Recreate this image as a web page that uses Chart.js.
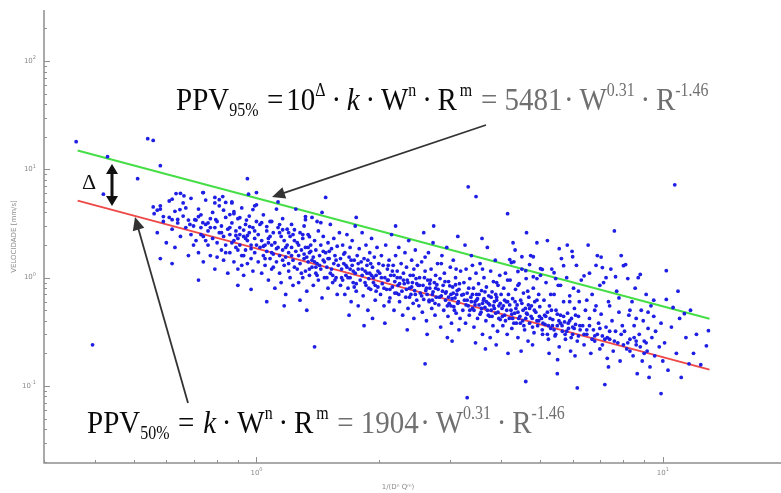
<!DOCTYPE html>
<html>
<head>
<meta charset="utf-8">
<script src="https://cdn.jsdelivr.net/npm/chart.js@4.4.1/dist/chart.umd.min.js"></script>
<style>
  html, body { margin: 0; padding: 0; background: #fff; }
  #wrap { width: 781px; height: 493px; }
</style>
</head>
<body>
<div id="wrap"><canvas id="ppvChart" width="781" height="493"></canvas></div>
<script>
// measured peak particle velocity, [scaled distance, mm/s]
const scatterPoints = [
  [0.36,18],[0.395,0.24],[0.42,5.9],[0.43,13.1],[0.51,8.2],[0.54,19.2],[0.557,18.5],[0.58,10.8],
  [0.557,4.5],[0.57,4.2],[0.58,4.3],[0.62,5.3],[0.648,4.25],[0.59,3.66],[0.62,3.43],[0.64,3.45],
  [0.705,3.43],[0.72,3.66],[0.686,3.1],[0.738,3.22],[0.794,3.43],[0.79,4.9],[0.81,5.25],[0.826,5.6],
  [0.84,4.95],[0.87,4.9],[0.86,3.82],[0.88,4.07],[0.91,3.58],[0.945,3.4],[0.962,2.96],[1.0,4.7],
  [0.98,4.25],[1.03,3.22],[1.06,2.96],[1.09,3.3],[1.14,3.09],[1.16,2.77],[1.2,2.6],[1.24,2.77],
  [1.3,2.5],[1.32,3.43],[1.32,3.66],[1.41,3.3],[1.44,3.22],[1.35,2.39],[0.634,5.97],[0.663,5.7],
  [0.738,6.1],[0.956,5.9],[1.0,6.1],[1.48,5.5],[1.13,5.0],[1.25,4.3],[0.95,8.2],
  [0.56,3.9],[0.57,2.6],[0.58,4.6],[0.59,3.3],[0.6,2.1],[0.61,5.1],[0.61,3.6],[0.62,2.8],[0.63,4.1],
  [0.63,1.9],[0.64,3.2],[0.65,6.0],[0.65,2.4],[0.66,3.7],[0.67,2.9],[0.67,4.4],[0.68,1.6],[0.68,3.4],
  [0.69,2.5],[0.69,5.4],[0.7,3.0],[0.7,2.0],[0.58,1.5],[0.62,1.35],[0.66,4.9],
  [0.71,3.4],[0.71,2.2],[0.72,1.7],[0.72,4.3],[0.73,2.9],[0.73,3.8],[0.74,2.4],[0.74,1.4],[0.75,3.1],
  [0.75,5.2],[0.76,2.0],[0.76,2.7],[0.77,3.5],[0.77,1.6],[0.78,2.3],[0.78,4.0],[0.79,2.9],[0.79,1.2],
  [0.8,3.3],[0.8,2.1],[0.81,2.6],[0.81,4.6],[0.82,1.8],[0.82,3.0],[0.83,2.4],[0.83,1.45],[0.84,3.6],
  [0.84,2.0],[0.85,2.8],[0.85,1.1],[0.73,2.5],[0.76,3.2],[0.8,1.55],[0.74,6.1],[0.79,5.5],[0.83,4.2],
  [0.72,0.95],[0.75,2.2],[0.77,2.9],
  [0.86,2.5],[0.86,1.7],[0.87,3.2],[0.87,2.1],[0.88,1.4],[0.88,3.9],[0.89,2.7],[0.89,1.9],[0.9,2.3],
  [0.9,1.2],[0.9,3.5],[0.91,2.0],[0.91,2.9],[0.92,1.6],[0.92,4.4],[0.93,2.4],[0.93,1.05],[0.94,3.1],
  [0.94,1.8],[0.95,2.2],[0.95,1.35],[0.96,2.6],[0.96,3.7],[0.97,1.5],[0.97,2.0],[0.98,2.9],[0.98,1.15],
  [0.99,2.3],[0.99,1.7],[1.0,3.3],[1.0,2.0],[0.87,5.0],[0.9,0.85],[0.93,2.75],[0.97,0.78],[0.89,2.45],
  [0.99,4.6],[0.92,1.3],[0.9,1.8],[0.91,2.5],[0.94,2.3],
  [1.01,1.4],[1.01,2.5],[1.02,1.9],[1.02,3.1],[1.03,1.1],[1.03,2.2],[1.04,1.6],[1.04,3.8],[1.05,2.0],
  [1.05,1.3],[1.06,2.7],[1.06,1.75],[1.07,0.95],[1.07,2.3],[1.08,1.5],[1.08,3.3],[1.09,2.0],[1.09,1.2],
  [1.1,2.6],[1.1,1.65],[1.11,0.8],[1.11,2.1],[1.12,1.4],[1.12,4.3],[1.13,1.9],[1.13,2.9],[1.14,1.1],
  [1.14,1.6],[1.15,2.4],[1.15,0.9],[1.16,1.8],[1.16,3.5],[1.17,1.3],[1.17,2.2],[1.18,1.55],[1.18,0.7],
  [1.19,2.0],[1.19,2.8],[1.2,1.15],[1.2,1.7],[1.21,2.4],[1.21,1.0],[1.22,1.9],[1.22,3.1],[1.23,1.45],
  [1.23,0.85],[1.24,2.2],[1.24,1.25],[1.25,1.75],[1.06,0.6],[1.17,0.55],
  [1.04,1.95],[1.05,1.5],[1.07,2.1],[1.09,1.7],[1.18,1.9],[1.2,1.35],[1.22,1.6],[1.23,2.5],
  [1.26,1.2],[1.26,2.1],[1.27,1.6],[1.27,0.9],[1.28,2.6],[1.28,1.35],[1.29,1.8],[1.3,1.0],[1.3,2.3],
  [1.31,1.5],[1.31,3.0],[1.32,1.15],[1.32,1.9],[1.33,0.75],[1.34,1.4],[1.34,2.5],[1.35,1.7],[1.35,1.05],
  [1.36,2.0],[1.37,1.25],[1.37,3.6],[1.38,1.55],[1.38,0.85],[1.39,2.2],[1.4,1.1],[1.4,1.8],[1.41,1.35],
  [1.42,2.7],[1.42,0.95],[1.43,1.6],[1.44,2.0],[1.44,1.2],[1.45,0.65],[1.46,1.45],[1.46,2.4],[1.47,1.0],
  [1.48,1.7],[1.49,1.25],[1.5,2.1],[1.5,0.8],[1.51,1.5],[1.52,3.1],[1.52,1.1],[1.53,1.85],[1.54,0.9],
  [1.55,1.35],[1.55,2.3],[1.56,1.6],[1.57,1.0],[1.58,1.95],[1.58,0.7],[1.59,1.3],[1.6,2.6],[1.33,0.5],
  [1.45,4.0],[1.28,0.62],[1.39,0.23],
  [1.33,1.55],[1.35,1.2],[1.36,1.75],[1.39,1.4],[1.41,1.05],[1.47,1.4],[1.49,1.0],[1.51,1.75],[1.53,1.2],
  [1.56,0.95],
  [1.61,1.5],[1.61,0.85],[1.62,1.2],[1.63,2.0],[1.63,0.95],[1.64,1.35],[1.65,0.7],[1.65,1.7],[1.66,1.05],
  [1.67,2.5],[1.67,1.25],[1.68,0.8],[1.69,1.55],[1.7,1.0],[1.7,1.9],[1.71,0.6],[1.72,1.3],[1.72,2.2],
  [1.73,0.9],[1.74,1.45],[1.75,1.1],[1.75,3.0],[1.76,0.75],[1.77,1.6],[1.78,1.2],[1.78,0.55],[1.79,1.85],
  [1.8,0.95],[1.81,1.4],[1.82,2.6],[1.82,1.05],[1.83,0.68],[1.84,1.5],[1.85,1.15],[1.86,0.85],[1.86,2.0],
  [1.87,1.3],[1.88,0.5],[1.89,0.98],[1.9,1.7],[1.9,1.1],[1.91,0.78],[1.92,2.3],[1.93,1.25],[1.94,0.9],
  [1.95,1.55],[1.96,0.62],[1.97,1.05],[1.98,1.9],[1.99,0.82],[2.0,1.35],[1.76,3.6],[1.69,0.45],[1.93,0.42],
  [1.84,0.36],
  [1.66,1.3],[1.68,1.0],[1.71,1.45],[1.73,1.15],[1.76,0.88],[1.87,1.1],[1.89,0.8],[1.91,1.35],[1.94,1.0],
  [1.97,0.75],
  [2.01,1.1],[2.02,0.7],[2.03,1.6],[2.04,0.88],[2.05,1.3],[2.06,0.55],[2.07,1.0],[2.08,2.0],[2.09,0.78],
  [2.1,1.2],[2.11,0.95],[2.12,1.45],[2.13,0.65],[2.14,1.05],[2.15,2.5],[2.16,0.82],[2.17,1.3],[2.18,0.5],
  [2.19,0.92],[2.2,1.6],[2.21,0.72],[2.22,1.15],[2.23,0.85],[2.24,1.9],[2.25,0.6],[2.26,1.0],[2.27,1.35],
  [2.28,0.75],[2.29,0.45],[2.3,1.1],[2.31,0.88],[2.32,1.7],[2.33,0.66],[2.34,1.25],[2.35,0.95],[2.36,0.52],
  [2.37,2.2],[2.38,0.8],[2.39,1.05],[2.4,0.7],[2.41,1.45],[2.42,0.9],[2.43,0.58],[2.44,1.2],[2.45,0.76],
  [2.46,1.8],[2.47,0.98],[2.48,0.62],[2.49,1.3],[2.5,0.85],[2.07,0.38],[2.35,0.33],[2.2,3.0],[2.12,0.6],
  [2.44,0.42],
  [2.1,0.95],[2.13,0.78],[2.16,1.15],[2.19,0.72],[2.22,1.0],[2.25,0.88],[2.36,0.9],[2.38,0.66],[2.41,0.82],
  [2.43,1.05],[2.46,0.7],[2.48,0.88],
  [2.51,0.55],[2.52,1.0],[2.53,0.72],[2.55,1.4],[2.56,0.48],[2.57,0.85],[2.58,0.63],[2.6,1.15],[2.61,0.76],
  [2.62,0.4],[2.64,0.95],[2.65,1.7],[2.66,0.6],[2.67,0.8],[2.69,1.2],[2.7,0.52],[2.71,0.7],[2.72,2.1],
  [2.74,0.9],[2.75,0.45],[2.76,1.05],[2.77,0.66],[2.79,1.35],[2.8,0.78],[2.81,0.56],[2.83,0.98],[2.84,0.35],
  [2.85,0.68],[2.86,1.6],[2.88,0.85],[2.89,0.5],[2.9,1.1],[2.92,0.62],[2.93,0.74],[2.94,1.9],[2.96,0.44],
  [2.97,0.92],[2.98,0.58],[3.0,1.25],[3.01,0.7],[3.02,0.38],[3.04,0.82],[3.05,1.45],[3.06,0.54],[3.08,0.65],
  [3.09,1.0],[3.1,0.47],[3.12,0.76],[3.13,2.4],[3.14,0.6],[3.16,0.88],[3.17,0.42],[3.18,1.15],[3.2,0.69],
  [2.63,0.3],[2.95,0.28],[3.03,0.26],[2.73,3.0],[2.58,2.6],[3.15,0.33],[2.6,0.16],
  [2.62,0.8],[2.66,0.62],[2.68,0.95],[2.72,0.74],[2.75,0.58],[2.78,0.86],[2.82,0.66],[2.92,0.72],[2.95,0.55],
  [2.99,0.84],[3.03,0.64],[3.07,0.5],[3.11,0.7],[3.15,0.78],[3.1,1.2],[2.85,1.35],[2.6,1.55],
  [3.22,0.5],[3.24,0.9],[3.25,0.62],[3.27,0.38],[3.28,1.2],[3.3,0.72],[3.32,6.9],[3.32,0.55],[3.34,0.45],
  [3.35,0.98],[3.37,0.66],[3.38,1.6],[3.4,0.52],[3.42,0.8],[3.43,0.35],[3.45,0.6],[3.47,1.1],[3.48,0.7],
  [3.5,0.42],[3.52,0.88],[3.53,0.56],[3.55,1.35],[3.57,0.48],[3.58,0.76],[3.6,0.3],[3.62,0.62],[3.63,1.0],
  [3.65,0.53],[3.67,0.4],[3.68,0.82],[3.7,1.9],[3.72,0.58],[3.73,0.68],[3.75,0.44],[3.77,1.15],[3.78,0.5],
  [3.8,0.74],[3.82,0.36],[3.83,0.92],[3.85,0.6],[3.87,1.45],[3.88,0.47],[3.9,0.66],[3.92,0.32],[3.93,0.85],
  [3.95,0.55],[3.97,1.05],[3.98,0.41],[4.0,0.7],[3.47,5.6],[3.46,0.25],[3.66,0.22],[3.89,0.24],[3.59,2.3],
  [3.26,2.0],[3.76,0.28],[3.3,0.078],
  [3.3,0.62],[3.35,0.5],[3.4,0.7],[3.45,0.56],[3.5,0.64],[3.55,0.46],[3.6,0.58],[3.65,0.74],[3.7,0.5],
  [3.75,0.56],[3.8,0.44],[3.85,0.52],[3.9,0.62],[3.95,0.42],[3.9,0.9],[3.6,1.2],[3.4,1.3],
  [4.02,0.52],[4.04,0.36],[4.06,0.8],[4.08,0.45],[4.1,1.1],[4.12,0.6],[4.14,0.3],[4.15,3.9],[4.17,0.7],
  [4.19,0.42],[4.21,0.95],[4.23,0.5],[4.25,0.34],[4.27,0.64],[4.3,1.4],[4.32,0.47],[4.34,0.78],[4.36,0.38],
  [4.38,0.56],[4.4,0.28],[4.43,0.88],[4.45,0.44],[4.47,0.62],[4.5,1.2],[4.52,0.4],[4.54,0.72],[4.57,0.33],
  [4.59,0.52],[4.61,0.98],[4.64,0.46],[4.66,0.26],[4.68,0.66],[4.7,0.38],[4.73,1.6],[4.75,0.55],[4.77,0.42],
  [4.8,0.8],[4.82,0.31],[4.84,0.6],[4.87,0.48],[4.92,0.36],[4.95,0.7],[4.97,0.44],[5.0,1.05],
  [4.28,2.1],[4.48,0.21],[4.62,2.6],[4.78,0.24],[4.16,0.2],[4.33,1.8],[4.6,0.11],
  [4.05,0.55],[4.1,0.4],[4.15,0.6],[4.25,0.46],[4.3,0.38],[4.35,0.52],[4.42,0.42],[4.5,0.58],[4.55,0.36],
  [4.62,0.47],[4.7,0.52],[4.78,0.35],[4.4,0.85],[4.65,0.75],[4.9,0.62],[4.15,0.95],
  [4.5,1.56],[4.2,1.47],[4.24,1.38],[4.8,1.56],[4.7,1.32],[5.0,1.21],[5.05,1.19],[4.4,1.14],[4.6,1.16],
  [4.8,1.02],[4.9,0.98],[5.4,1.11],[5.45,0.98],[4.9,2.1],[5.2,2.2],
  [5.03,0.42],[5.06,0.3],[5.1,0.62],[5.13,0.37],[5.16,0.9],[5.2,0.48],[5.23,0.27],[5.26,0.55],[5.3,0.34],
  [5.33,1.2],[5.36,0.41],[5.4,0.7],[5.43,0.29],[5.46,0.5],[5.5,0.36],[5.53,0.85],[5.56,0.23],[5.6,0.45],
  [5.63,1.5],[5.66,0.32],[5.7,0.6],[5.73,0.39],[5.76,0.27],[5.8,1.0],[5.83,0.47],[5.86,0.34],[5.9,0.68],
  [5.93,0.21],[5.96,0.42],[6.0,0.3],[6.03,0.8],[6.06,0.52],[6.1,0.37],[6.13,1.3],[6.16,0.26],[6.2,0.44],
  [6.23,0.6],[6.26,0.33],[6.3,0.95],[5.51,0.175],[5.82,2.0],[5.56,1.85],[6.08,0.19],[5.25,0.2],[5.98,1.75],
  [5.5,0.13],[6.16,0.096],
  [4.95,0.4],[5.05,0.33],[5.12,0.45],[5.2,0.3],[5.28,0.42],[5.35,0.36],[5.45,0.3],[5.55,0.4],[5.65,0.36],
  [5.75,0.3],[5.85,0.38],[5.95,0.28],[6.05,0.34],[6.2,0.29],[5.3,0.7],[5.6,0.85],[5.9,0.6],[6.2,0.75],
  [6.0,1.56],[5.7,1.29],[6.4,1.04],
  [6.35,0.36],[6.4,0.24],[6.45,0.5],[6.5,0.3],[6.55,2.0],[6.6,0.42],[6.65,0.2],[6.7,0.7],[6.75,0.33],
  [6.8,0.26],[6.85,0.55],[6.9,1.6],[6.95,0.38],[7.0,0.22],[7.05,0.46],[7.1,0.29],[7.15,0.9],[7.2,0.103],
  [7.25,0.35],[7.3,0.18],[7.35,0.6],[7.4,0.27],[7.45,1.2],[7.5,0.4],[7.55,0.21],[7.6,2.7],[7.65,0.32],
  [7.7,0.75],[7.75,0.25],[7.8,0.48],[7.85,0.17],[7.95,0.36],[6.6,1.1],[7.05,1.55],[7.35,0.15],[6.85,1.3],
  [6.5,0.33],[6.7,0.27],[6.9,0.3],[7.1,0.24],[7.3,0.28],[6.5,0.62],[6.8,0.5],[7.0,0.85],[7.4,0.55],
  [7.8,0.65],[7.1,1.24],[7.25,1.0],[7.65,1.02],[7.9,1.6],
  [8.05,0.32],[8.1,1.32],[8.15,0.22],[8.2,0.98],[8.25,0.45],[8.3,0.27],[8.4,0.6],[8.45,0.19],[8.5,0.36],
  [8.55,0.8],[8.6,0.24],[8.7,1.0],[8.75,0.3],[8.8,1.07],[8.85,0.5],[8.9,0.17],[8.95,0.4],[9.0,0.26],
  [9.1,0.7],[9.15,0.21],[9.2,0.34],[9.3,0.15],[9.35,0.55],[9.4,0.28],[9.5,0.44],[9.55,0.19],[9.6,0.32],
  [9.9,0.085],[9.8,0.23],[9.9,0.38],[10.0,0.17],[8.65,0.13],[9.25,0.12],[8.0,1.29],
  [8.0,0.24],[8.3,0.21],[8.6,0.26],[9.0,0.2],[8.3,0.5],[8.6,0.42],[9.2,0.48],[9.5,0.62],
  [10.1,0.25],[10.2,1.16],[10.2,0.63],[10.3,0.14],[10.5,0.35],[10.6,0.53],[10.7,7.2],[10.8,0.2],[11.0,0.42],
  [11.1,0.12],[11.3,0.465],[11.4,0.28],[11.6,0.16],[11.9,0.2],[12.1,0.3],[12.4,0.157],[12.8,0.235],
  [12.95,0.324],[11.7,0.5],[10.9,0.75],
  // dense core along the median line
  [0.82,2.6],[0.84,1.7],[0.86,2.9],[0.88,2.2],[0.93,1.6],[0.95,2.45],[0.97,1.85],[0.99,2.7],
  [1.08,2.4],[1.1,1.25],[1.12,1.85],[1.14,2.6],[1.16,1.45],[1.27,2.0],[1.29,1.1],[1.31,1.65],
  [1.34,1.9],[1.37,1.45],[1.4,1.25],[1.43,1.3],[1.46,1.75],[1.5,1.5],[1.54,1.05],[1.57,1.45],
  [1.62,1.0],[1.64,1.65],[1.7,1.2],[1.74,0.82],[1.78,1.35],[1.82,1.2],[1.85,0.9],[1.88,1.45],
  [1.92,1.05],[1.96,0.85],[1.99,1.15],[2.03,1.0],[2.06,0.8],[2.11,1.3],[2.18,1.05],[2.24,0.7],
  [2.3,0.95],[2.34,0.78],[2.52,0.85],[2.55,0.68],[2.59,1.0],[2.63,0.7],[2.67,0.88],[2.71,0.62],
  [2.76,0.8],[2.87,0.75],[2.91,0.92],[2.97,0.66],[3.01,0.55],[3.05,0.72],[3.09,0.86],[3.13,0.58],
  [3.23,0.7],[3.28,0.56],[3.33,0.8],[3.38,0.6],[3.43,0.5],[3.48,0.62],[3.53,0.7],[3.58,0.52],
  [3.63,0.64],[3.68,0.6],[3.72,0.45],[3.78,0.66],[3.83,0.55],[3.88,0.7],[3.93,0.48],[3.98,0.58],
  [4.03,0.44],[4.08,0.62],[4.13,0.5],[4.2,0.56],[4.27,0.42],[4.33,0.6],[4.4,0.48],[4.46,0.38],
  [4.53,0.5],[4.6,0.42],[4.67,0.56],[4.74,0.44],[4.83,0.5],[4.9,0.4],[4.98,0.54],[5.07,0.38],
  [5.15,0.44],[5.23,0.36],[5.32,0.5],[5.4,0.33],[5.5,0.46],[5.6,0.38],[5.7,0.44],[5.8,0.32],
  [5.9,0.4],[6.0,0.35],[6.1,0.45],[6.25,0.36],[6.4,0.3],[6.6,0.36],[6.8,0.29],[7.0,0.34],
  [7.2,0.27],[7.4,0.32],[7.6,0.26],[7.9,0.3],[8.2,0.25],[8.5,0.28],[8.8,0.23],[9.1,0.25]
];

// fitted attenuation lines (end points)
const fit50 = [[0.363, 5.14], [13.03, 0.1415]];
const fit95 = [[0.363, 14.9], [13.03, 0.418]];

// axis ranges and labelled decades
const xRange = [0.3013, 19.1];
const yRange = [0.01945, 295.8];
const xDecades = [0, 1];
const yDecades = [-1, 0, 1, 2];
const xTitle = '1/(D\u207F Q\u1D50)';
const yTitle = 'VELOCIDADE [mm/s]';

const BLUE = 'rgb(30,30,228)';
const GREEN = 'rgb(70,222,70)';
const RED = 'rgb(238,72,72)';
const AXIS = '#8f8f8f';
const SERIF = '"Liberation Serif", "Times New Roman", serif';
const SANS = '"DejaVu Sans", sans-serif';

function toXY(arr) {
    return arr.map(p => ({ x: p[0], y: p[1] }));
}

function powLabel(ctx, exp, x, y, align) {
    // "10" with a small exponent
    ctx.font = '7px ' + SANS;
    const base = '10';
    const bw = ctx.measureText(base).width;
    ctx.font = '5px ' + SANS;
    const ew = ctx.measureText(String(exp)).width;
    let left = x;
    if (align === 'right') left = x - bw - ew;
    if (align === 'center') left = x - (bw + ew) / 2;
    ctx.font = '7px ' + SANS;
    ctx.fillText(base, left, y);
    ctx.font = '5px ' + SANS;
    ctx.fillText(String(exp), left + bw, y - 3);
}

const axesPlugin = {
    id: 'axesPlugin',
    beforeDraw(chart) {
        const ctx = chart.ctx;
        ctx.save();
        ctx.fillStyle = '#fff';
        ctx.fillRect(0, 0, chart.width, chart.height);
        ctx.restore();
    },
    afterDatasetsDraw(chart) {
        const ctx = chart.ctx, a = chart.chartArea;
        const xs = chart.scales.x, ys = chart.scales.y;
        ctx.save();
        ctx.strokeStyle = AXIS;
        ctx.lineWidth = 1.5;
        ctx.beginPath();
        ctx.moveTo(a.left, a.top);
        ctx.lineTo(a.left, a.bottom);
        ctx.lineTo(chart.width, a.bottom);
        ctx.stroke();

        // tick marks point inwards
        ctx.lineWidth = 1;
        for (let e = -2; e <= 2; e++) {
            for (let m = 1; m <= 9; m++) {
                const v = m * Math.pow(10, e);
                if (v < ys.min || v > ys.max) continue;
                const py = Math.round(ys.getPixelForValue(v)) + 0.5;
                ctx.beginPath();
                ctx.moveTo(a.left, py);
                ctx.lineTo(a.left + (m === 1 ? 6 : 3), py);
                ctx.stroke();
            }
        }
        for (let e = -1; e <= 1; e++) {
            for (let m = 1; m <= 9; m++) {
                const v = m * Math.pow(10, e);
                if (v < xs.min || v > xs.max) continue;
                const px = Math.round(xs.getPixelForValue(v)) + 0.5;
                ctx.beginPath();
                ctx.moveTo(px, a.bottom);
                ctx.lineTo(px, a.bottom - (m === 1 ? 6 : 3));
                ctx.stroke();
            }
        }

        ctx.fillStyle = '#8a8a8a';
        ctx.textBaseline = 'middle';
        ctx.textAlign = 'left';
        yDecades.forEach(e => {
            powLabel(ctx, e, a.left - 8, ys.getPixelForValue(Math.pow(10, e)), 'right');
        });
        xDecades.forEach(e => {
            powLabel(ctx, e, xs.getPixelForValue(Math.pow(10, e)), a.bottom + 10, 'center');
        });

        ctx.font = '7px ' + SANS;
        ctx.textAlign = 'center';
        ctx.fillText(xTitle, 398, 487);
        ctx.translate(14, (a.top + a.bottom) / 2);
        ctx.rotate(-Math.PI / 2);
        ctx.fillText(yTitle, 0, 0);
        ctx.restore();
    }
};

function arrow(ctx, x0, y0, x1, y1, head, half, width, color) {
    const ang = Math.atan2(y1 - y0, x1 - x0);
    const c = Math.cos(ang), s = Math.sin(ang);
    const bx = x1 - head * c, by = y1 - head * s;
    ctx.strokeStyle = color;
    ctx.fillStyle = color;
    ctx.lineWidth = width;
    ctx.beginPath();
    ctx.moveTo(x0, y0);
    ctx.lineTo(bx + c, by + s);
    ctx.stroke();
    ctx.beginPath();
    ctx.moveTo(x1, y1);
    ctx.lineTo(bx + half * s, by - half * c);
    ctx.lineTo(bx - half * s, by + half * c);
    ctx.closePath();
    ctx.fill();
}

// formula parts: [text, kind, colour, gap before (em)]
const K = '#0a0a0a', G = '#707070';
const formula95 = [
    ['PPV', 'n', K, 0], ['95%', 'sub', K, 0], ['=', 'n', K, 0.3], ['10', 'n', K, 0.1],
    ['\u0394', 'sup', K, 0], ['\u00B7', 'n', K, 0.2], ['k', 'i', K, 0.2], ['\u00B7', 'n', K, 0.2],
    ['W', 'n', K, 0.2], ['n', 'sup', K, 0], ['\u00B7', 'n', K, 0.2], ['R', 'n', K, 0.2],
    ['m', 'sup', K, 0.1], ['=', 'n', G, 0.3], ['5481', 'n', G, 0.25], ['\u00B7', 'n', G, 0.05],
    ['W', 'n', G, 0.2], ['0.31', 'sup', G, 0], ['\u00B7', 'n', G, 0.2], ['R', 'n', G, 0.2],
    ['-1.46', 'sup', G, 0]
];
const formula50 = [
    ['PPV', 'n', K, 0], ['50%', 'sub', K, 0], ['=', 'n', K, 0.3], ['k', 'i', K, 0.3],
    ['\u00B7', 'n', K, 0.2], ['W', 'n', K, 0.2], ['n', 'sup', K, 0], ['\u00B7', 'n', K, 0.2],
    ['R', 'n', K, 0.2], ['m', 'sup', K, 0.1], ['=', 'n', G, 0.3], ['1904', 'n', G, 0.25],
    ['\u00B7', 'n', G, 0.05], ['W', 'n', G, 0.2], ['0.31', 'sup', G, 0], ['\u00B7', 'n', G, 0.2],
    ['R', 'n', G, 0.2], ['-1.46', 'sup', G, 0]
];

function drawFormula(ctx, parts, x, y, size) {
    ctx.save();
    ctx.translate(x, y);
    ctx.scale(1, 1.12);
    ctx.textBaseline = 'alphabetic';
    ctx.textAlign = 'left';
    let cx = 0;
    parts.forEach(([txt, kind, col, gap]) => {
        cx += gap * size;
        let fs = size, dy = 0, style = '';
        if (kind === 'sub') { fs = size * 0.55; dy = 0.2 * size; }
        if (kind === 'sup') { fs = size * 0.55; dy = -0.42 * size; }
        if (kind === 'i') style = 'italic ';
        ctx.font = style + fs + 'px ' + SERIF;
        ctx.fillStyle = col;
        ctx.fillText(txt, cx, dy);
        cx += ctx.measureText(txt).width;
    });
    ctx.restore();
}

const notesPlugin = {
    id: 'notesPlugin',
    afterDraw(chart) {
        const ctx = chart.ctx;
        ctx.save();
        drawFormula(ctx, formula95, 176, 110, 29);
        drawFormula(ctx, formula50, 87, 433, 29);

        arrow(ctx, 486, 125, 272, 197, 13, 6, 1.8, '#333');
        arrow(ctx, 188, 403, 135, 217, 13, 6, 1.8, '#333');

        arrow(ctx, 112, 185, 112, 164, 10, 6, 3, '#111');
        arrow(ctx, 112, 185, 112, 206, 10, 6, 3, '#111');

        ctx.font = '22px ' + SERIF;
        ctx.fillStyle = '#111';
        ctx.textAlign = 'left';
        ctx.textBaseline = 'alphabetic';
        ctx.fillText('\u0394', 82, 189);
        ctx.restore();
    }
};

new Chart(document.getElementById('ppvChart'), {
    type: 'scatter',
    data: {
        datasets: [
            {
                label: 'PPV',
                data: toXY(scatterPoints),
                pointRadius: 1.9,
                pointBackgroundColor: BLUE,
                pointBorderWidth: 0,
                order: 0
            },
            {
                label: 'PPV 95%',
                data: toXY(fit95),
                showLine: true,
                borderColor: GREEN,
                borderWidth: 2,
                pointRadius: 0,
                order: 1
            },
            {
                label: 'PPV 50%',
                data: toXY(fit50),
                showLine: true,
                borderColor: RED,
                borderWidth: 2,
                pointRadius: 0,
                order: 1
            }
        ]
    },
    options: {
        responsive: false,
        animation: false,
        devicePixelRatio: 1,
        layout: { padding: { left: 44, right: 0, top: 10, bottom: 30 } },
        plugins: {
            legend: { display: false },
            tooltip: { enabled: false }
        },
        scales: {
            x: { type: 'logarithmic', display: false, min: xRange[0], max: xRange[1] },
            y: { type: 'logarithmic', display: false, min: yRange[0], max: yRange[1] }
        }
    },
    plugins: [axesPlugin, notesPlugin]
});
</script>
</body>
</html>
